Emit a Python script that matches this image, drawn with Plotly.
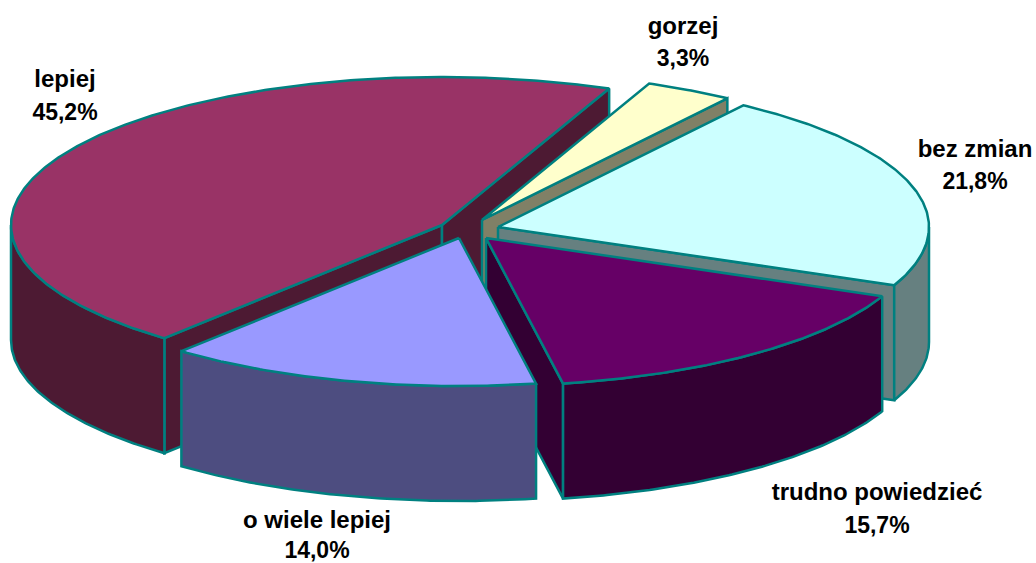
import math
import plotly.graph_objects as go

categories = ["lepiej", "gorzej", "bez zmian", "trudno powiedzieć", "o wiele lepiej"]
shares = [45.2, 3.3, 21.8, 15.7, 14.0]
top_colors = ["#993366", "#ffffcc", "#ccffff", "#660066", "#9999ff"]
side_colors = ["#4d1a33", "#808066", "#668080", "#330033", "#4d4d80"]
apex_x = [442, 482, 498, 486, 459]
apex_y = [225, 220, 227, 238, 238]
label_x = [65, 683, 975, 877, 317]
name_y = [81, 28, 151, 494, 522]
value_y = [114, 60, 183, 527, 552]

START = 220.1
RX, RY, DEPTH = 431, 148, 115
LINE = "#008080"

fig = go.Figure()


def pt(cx, cy, deg, dz=0):
    r = math.radians(deg)
    return cx + RX * math.sin(r), cy - RY * math.cos(r) + dz


def arc(cx, cy, a0, a1, dz=0):
    n = max(2, int(abs(a1 - a0) * 2))
    return [pt(cx, cy, a0 + (a1 - a0) * i / n, dz) for i in range(n + 1)]


def poly(points, fill):
    fig.add_trace(go.Scatter(
        x=[p[0] for p in points] + [points[0][0]],
        y=[p[1] for p in points] + [points[0][1]],
        mode="lines", fill="toself", fillcolor=fill,
        line=dict(color=LINE, width=2.5), hoverinfo="skip", showlegend=False))


a = START
for i, share in enumerate(shares):
    sweep = share * 3.6
    a0 = a % 360
    a1 = a0 + sweep
    a = a1
    cx, cy = apex_x[i], apex_y[i]
    fill = side_colors[i]
    # radial walls
    if math.sin(math.radians(a0)) < 0:
        e = pt(cx, cy, a0)
        poly([(cx, cy), e, (e[0], e[1] + DEPTH), (cx, cy + DEPTH)], fill)
    if math.sin(math.radians(a1)) > 0:
        e = pt(cx, cy, a1)
        poly([(cx, cy), e, (e[0], e[1] + DEPTH), (cx, cy + DEPTH)], fill)
    # outer wall: only the part facing the viewer
    lo, hi = max(a0, 90), min(a1, 270)
    if hi > lo:
        poly(arc(cx, cy, lo, hi) + arc(cx, cy, hi, lo, DEPTH), fill)
    poly([(cx, cy)] + arc(cx, cy, a0, a1), top_colors[i])

value_text = [f"{s:.1f}%".replace(".", ",") for s in shares]
fig.add_trace(go.Scatter(
    x=label_x, y=name_y, text=categories, mode="text",
    textposition="middle center",
    textfont=dict(family="Liberation Sans", size=24, color="black", weight="bold"),
    hoverinfo="skip", showlegend=False, cliponaxis=False))
fig.add_trace(go.Scatter(
    x=label_x, y=value_y, text=value_text, mode="text",
    textposition="middle center",
    textfont=dict(family="Liberation Sans", size=23, color="black", weight="bold"),
    hoverinfo="skip", showlegend=False, cliponaxis=False))

fig.update_layout(
    width=1036, height=563, margin=dict(l=0, r=0, t=0, b=0),
    paper_bgcolor="white", plot_bgcolor="white",
    xaxis=dict(range=[0, 1036], visible=False, fixedrange=True),
    yaxis=dict(range=[563, 0], visible=False, fixedrange=True),
)
fig.write_html("out.html", config={"displayModeBar": False},
               post_script="document.body.style.margin='0';document.documentElement.style.overflow='hidden';")
